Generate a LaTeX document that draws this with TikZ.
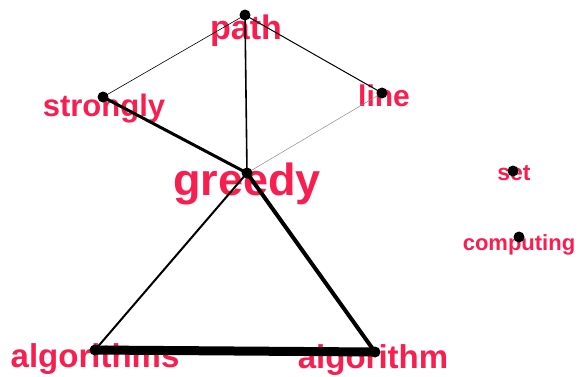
\documentclass[tikz,border=0pt]{standalone}
\usepackage{fontspec}
\setmainfont{Liberation Sans}
\usepackage{tikz}
\definecolor{wordred}{HTML}{F81E50}
\definecolor{faint}{HTML}{8C8C8C}

\begin{document}
\begin{tikzpicture}[
  x=1pt, y=-1pt,
  dot/.style  = {circle, fill=black, inner sep=0pt, minimum size=11pt},
  word/.style = {text=wordred, anchor=mid, inner sep=0pt,
                 font=\bfseries\fontsize{#1}{#1}\selectfont},
  link/.style = {draw=black, line width=#1, line cap=round},
]
  \useasboundingbox (0,0) rectangle (579,376);

  % words first, so the edges and dots lie over them
  \node[word=34] (path-l)   at (246,37)  {path};
  \node[word=31] (strong-l) at (104,114) {strongly};
  \node[word=30] (line-l)   at (384,104) {line};
  \node[word=45] (greedy-l) at (247,193) {greedy};
  \node[word=23] (set-l)    at (514,178) {set};
  \node[word=22] (comp-l)   at (519,248) {computing};
  \node[word=33] (algs-l)   at (95,365)  {algorithms};
  \node[word=33] (alg-l)    at (373,366) {algorithm};

  \coordinate (path)   at (245,15);
  \coordinate (strong) at (103,97);
  \coordinate (line)   at (382,93);
  \coordinate (greedy) at (247,173);
  \coordinate (set)    at (513,171);
  \coordinate (comp)   at (519,237);
  \coordinate (algs)   at (95,350);
  \coordinate (alg)    at (375,352);

  \draw[link=0.6]               (path)   -- (strong);
  \draw[link=1.0]               (path)   -- (line);
  \draw[link=1.6]               (path)   -- (greedy);
  \draw[link=3.0]               (strong) -- (greedy);
  \draw[link=0.5, draw=faint]   (line)   -- (greedy);
  \draw[link=2.0]               (greedy) -- (algs);
  \draw[link=4.0]               (greedy) -- (alg);
  \draw[link=9.0]               (algs)   -- (alg);

  \foreach \v in {path, strong, line, greedy, set, comp, algs, alg}
    \node[dot] (\v-d) at (\v) {};
\end{tikzpicture}
\end{document}
